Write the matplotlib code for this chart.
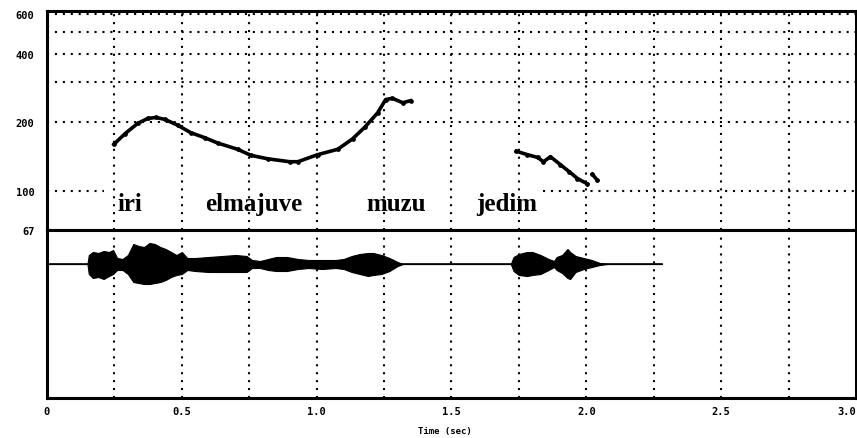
import matplotlib
matplotlib.use("Agg")
import matplotlib.pyplot as plt
import numpy as np

# ===== Data =====
# pitch track (Hz), two voiced stretches
f0_t1 = [0.248, 0.289, 0.337, 0.374, 0.404, 0.437, 0.485, 0.533, 0.585, 0.633,
         0.707, 0.756, 0.819, 0.900, 0.930, 1.004, 1.078, 1.133, 1.178, 1.226,
         1.256, 1.281, 1.319, 1.348]
f0_hz1 = [160, 178, 198, 208, 210, 206, 194, 180, 171, 162,
          152, 143, 138, 134, 134, 144, 152, 169, 190, 220,
          252, 255, 244, 249]
f0_t2 = [1.741, 1.781, 1.819, 1.841, 1.867, 1.904, 1.937, 1.967, 2.004]
f0_hz2 = [149, 144, 140, 134, 141, 130, 121, 113, 107]
f0_t3 = [2.022, 2.041]
f0_hz3 = [118, 111]

# waveform envelope (arbitrary amplitude units, up / down from the baseline)
wave_t = [0.00, 0.15, 0.155, 0.17, 0.19, 0.21, 0.23, 0.245, 0.26, 0.28,
          0.30, 0.32, 0.34, 0.36, 0.38, 0.40, 0.42, 0.44, 0.46, 0.48,
          0.50, 0.52, 0.55, 0.60, 0.65, 0.70, 0.74, 0.76, 0.79, 0.82,
          0.85, 0.89, 0.93, 0.97, 1.02, 1.07, 1.10, 1.13, 1.16, 1.19,
          1.21, 1.24, 1.27, 1.30, 1.32, 1.72, 1.73, 1.75, 1.78, 1.80,
          1.83, 1.86, 1.88, 1.89, 1.91, 1.93, 1.94, 1.96, 1.99, 2.02,
          2.05, 2.08, 2.28]
wave_up = [0, 0, 9, 12, 11, 13, 12, 14, 6, 5,
           9, 20, 18, 17, 21, 20, 17, 15, 12, 9,
           12, 6, 6, 7, 8, 9, 8, 4, 3, 5,
           7, 7, 5, 4, 4, 4, 5, 8, 10, 11,
           11, 9, 6, 2, 0, 0, 7, 10, 12, 12,
           9, 5, 3, 7, 9, 15, 12, 8, 6, 4,
           1, 0, 0]
wave_down = [0, 0, 10, 14, 13, 15, 12, 10, 6, 6,
             10, 18, 19, 20, 20, 19, 18, 16, 13, 11,
             10, 6, 7, 8, 8, 8, 8, 4, 4, 6,
             7, 7, 5, 4, 5, 4, 5, 8, 10, 12,
             11, 10, 7, 2, 0, 0, 7, 11, 12, 11,
             10, 6, 3, 6, 9, 14, 15, 8, 5, 3,
             1, 0, 0]

words = ["iri", "elmajuve", "muzu", "jedim"]
word_t = [0.262, 0.585, 1.185, 1.593]

f0_ticks = [67, 100, 200, 400, 600]
f0_grid = [200, 300, 400, 500, 600]
time_ticks = [0, 0.5, 1.0, 1.5, 2.0, 2.5, 3.0]
time_labels = ["0", "0.5", "1.0", "1.5", "2.0", "2.5", "3.0"]
time_grid = [0.25, 0.5, 0.75, 1.0, 1.25, 1.5, 1.75, 2.0, 2.25, 2.5, 2.75]

# ===== Styling =====
DOTS = (0, (1, 2.8))
MONO = dict(family="DejaVu Sans Mono", weight="bold")

fig = plt.figure(figsize=(8.57, 4.39), dpi=100)
ax1 = fig.add_axes([47 / 857, 208 / 439, 809 / 857, 219 / 439])
ax2 = fig.add_axes([47 / 857, 40 / 439, 809 / 857, 168 / 439])

# ===== Pitch panel =====
ax1.set_yscale("log")
ax1.set_xlim(0, 3.0)
ax1.set_ylim(67, 619)
for y in f0_grid:
    ax1.axhline(y, color="black", lw=1.5, ls=DOTS)
# the 100 Hz line is broken where the words sit
ax1.plot([0, 0.21], [100, 100], color="black", lw=1.5, ls=DOTS)
ax1.plot([1.84, 3.0], [100, 100], color="black", lw=1.5, ls=DOTS)
for x in time_grid:
    ax1.axvline(x, color="black", lw=1.5, ls=DOTS)

for t, hz in [(f0_t1, f0_hz1), (f0_t2, f0_hz2), (f0_t3, f0_hz3)]:
    ax1.plot(t, hz, color="black", lw=2.6, marker="o", ms=2.4)

for w, t in zip(words, word_t):
    ax1.text(t, 82, w, family="Liberation Serif", weight="bold", fontsize=18,
             ha="left", va="baseline", color="black")

ax1.set_yticks(f0_ticks)
ax1.set_yticklabels([str(v) for v in f0_ticks], fontsize=7.5, **MONO)
ax1.yaxis.set_minor_locator(matplotlib.ticker.NullLocator())
ax1.tick_params(axis="y", length=0, pad=9)
ax1.set_xticks([])

# ===== Waveform panel =====
ax2.set_xlim(0, 3.0)
ax2.set_ylim(-134, 34)
for x in time_grid:
    ax2.axvline(x, color="black", lw=1.5, ls=DOTS)
ax2.plot([0.01, wave_t[-1]], [0, 0], color="black", lw=1.2)
ax2.fill_between(wave_t, wave_up, -np.array(wave_down), color="black", lw=0.8)

ax2.set_yticks([])
ax2.set_xticks(time_ticks)
ax2.set_xticklabels(time_labels, fontsize=7.5, **MONO)
ax2.tick_params(axis="x", length=0, pad=6)
# last label sits flush with the right edge
ax2.get_xticklabels()[-1].set_horizontalalignment("right")

for ax in (ax1, ax2):
    for s in ax.spines.values():
        s.set_linewidth(2.2)

fig.text(445 / 857, 1 - 432 / 439, "Time (sec)", ha="center", va="center",
         fontsize=6.5, **MONO)

fig.savefig("out.png", dpi=100)
